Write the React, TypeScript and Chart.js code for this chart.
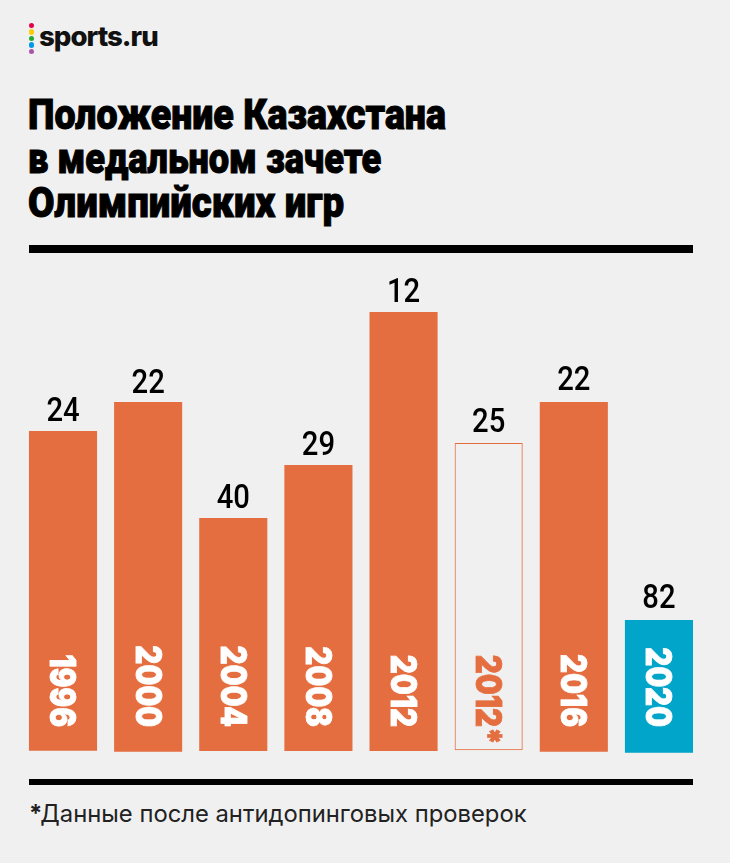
import { useEffect, useRef } from "react";
import { Chart, registerables, Plugin } from "chart.js";

Chart.register(...registerables);

const years = ["1996", "2000", "2004", "2008", "2012", "2012*", "2016", "2020"];
// place in the medal table, this is what gets printed over the bars
const ranks = [24, 22, 40, 29, 12, 25, 22, 82];
// bar tops and feet, the infographic does not scale them by rank
const barTops = [321, 350, 234, 287, 440, 309, 350, 132];
const barFeet = [1.3, 0.3, 1, 1, 1, 1.7, 0.3, -0.7];

const titleLines = ["Положение Казахстана", "в медальном зачете", "Олимпийских игр"];
const titleSqueeze = [0.895, 0.863, 0.915];

const ORANGE = "#e56e40";
const BLUE = "#00a5c9";

const fillColors = [ORANGE, ORANGE, ORANGE, ORANGE, ORANGE, "rgba(0,0,0,0)", ORANGE, BLUE];
const borderWidths = [0, 0, 0, 0, 0, 1, 0, 0];
const labelGaps = [10, 9, 10, 10, 10, 11, 12, 12];
const logoDots = ["#e6004c", "#ffcc00", "#22aa33", "#0099e6", "#aa55aa"];

const barText: Plugin<"bar"> = {
  id: "barText",
  afterDatasetsDraw(chart) {
    const ctx = chart.ctx;
    const bars = chart.getDatasetMeta(0).data;
    const yearEnd = chart.scales.y.getPixelForValue(0) - 25;
    bars.forEach((bar, i) => {
      // rank on top of the bar, squeezed a bit because the original face is narrower
      ctx.save();
      ctx.translate(bar.x, bar.y - labelGaps[i]);
      ctx.scale(0.86, 1);
      ctx.fillStyle = "#000";
      ctx.font = "500 34px Roboto";
      ctx.textAlign = "center";
      ctx.textBaseline = "alphabetic";
      ctx.fillText(String(ranks[i]), 0, 0);
      ctx.restore();

      // year, turned on its side. digits end on one line, the star hangs past it
      const digits = years[i].replace("*", "");
      ctx.save();
      ctx.translate(bar.x, yearEnd);
      ctx.rotate(Math.PI / 2);
      ctx.scale(0.84, 1);
      ctx.fillStyle = years[i].endsWith("*") ? ORANGE : "#fff";
      ctx.strokeStyle = ctx.fillStyle;
      ctx.lineWidth = 0.8;
      ctx.font = "900 35px Inter";
      ctx.textAlign = "left";
      ctx.textBaseline = "alphabetic";
      const w = ctx.measureText(digits).width;
      ctx.fillText(years[i], -w, 12.5);
      ctx.strokeText(years[i], -w, 12.5);
      ctx.restore();
    });
  },
};

export default function App() {
  const canvasRef = useRef<HTMLCanvasElement>(null);

  useEffect(() => {
    if (!canvasRef.current) return;
    const chart = new Chart(canvasRef.current, {
      type: "bar",
      data: {
        labels: years,
        datasets: [
          {
            data: barTops.map((top, i) => [barFeet[i], top]),
            backgroundColor: fillColors,
            borderColor: ORANGE,
            borderWidth: borderWidths,
            borderSkipped: false,
            barPercentage: 1,
            categoryPercentage: 0.8,
          },
        ],
      },
      options: {
        animation: false,
        responsive: false,
        layout: { padding: { left: 0.43, right: 1.47 } },
        plugins: { legend: { display: false }, tooltip: { enabled: false } },
        scales: {
          x: { display: false },
          y: { display: false, min: -10, max: 480 },
        },
      },
      plugins: [barText],
    });
    return () => chart.destroy();
  }, []);

  return (
    <div style={{ position: "fixed", left: 0, top: 0, width: 730, height: 863, background: "#f0f0f0", overflow: "hidden" }}>
      {logoDots.map((c, i) => (
        <div key={c} style={{ position: "absolute", left: 28.8, top: 22.8 + i * 6.45, width: 5.4, height: 5.4, borderRadius: "50%", background: c }} />
      ))}
      <div style={{ position: "absolute", left: 39, top: 19, fontFamily: "Inter", fontWeight: 800, fontSize: 27.6, letterSpacing: -1, color: "#111" }}>
        sports.ru
      </div>
      <h1 style={{ position: "absolute", left: 28, top: 93, margin: 0, fontFamily: "Roboto", fontWeight: 900, fontSize: 42, lineHeight: "44px", color: "#000", WebkitTextStroke: "1px #000", whiteSpace: "nowrap" }}>
        {titleLines.map((line, i) => (
          <div key={line} style={{ transform: `scaleX(${titleSqueeze[i]})`, transformOrigin: "0 0" }}>
            {line}
          </div>
        ))}
      </h1>
      <div style={{ position: "absolute", left: 29, top: 245, width: 664, height: 8, background: "#000" }} />
      <canvas ref={canvasRef} width={683} height={490} style={{ position: "absolute", left: 20, top: 272 }} />
      <div style={{ position: "absolute", left: 29, top: 779, width: 664, height: 6, background: "#000" }} />
      <div style={{ position: "absolute", left: 29, top: 799, fontFamily: "Inter", fontWeight: 400, fontSize: 23.8, color: "#222", whiteSpace: "nowrap" }}>
        <b style={{ marginRight: -2 }}>*</b>Данные после антидопинговых проверок
      </div>
    </div>
  );
}
